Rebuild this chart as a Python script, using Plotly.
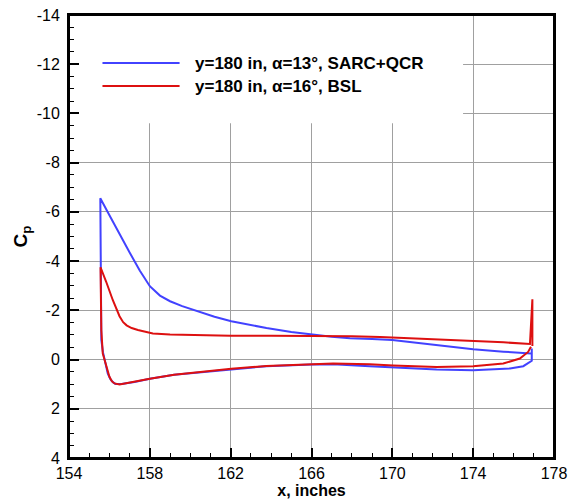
import plotly.graph_objects as go

# ---------------- data ----------------
# SARC+QCR, alpha=13 deg (blue)
blue_upper_x = [155.55, 155.9, 156.25, 156.6, 157.0, 157.5, 158.0, 158.5, 159.0, 159.6,
                160.5, 161.2, 162.03, 163.0, 163.77, 165.0, 166.0, 167.0, 167.9, 169.0,
                170.0, 171.0, 172.2, 172.85, 174.0, 175.5, 176.4, 176.85]
blue_upper_cp = [-6.55, -6.02, -5.52, -4.98, -4.35, -3.62, -2.98, -2.6, -2.37, -2.17,
                 -1.92, -1.74, -1.56, -1.4, -1.28, -1.12, -1.02, -0.93, -0.87, -0.84,
                 -0.79, -0.71, -0.59, -0.53, -0.42, -0.32, -0.27, -0.25]
blue_lower_x = [155.55, 155.58, 155.6, 155.68, 155.76, 155.92, 156.05, 156.17, 156.3, 156.6,
                157.24, 158.0, 159.2, 160.46, 162.03, 163.77, 166.0, 167.07, 168.88, 170.04,
                172.19, 174.0, 175.82, 176.48, 176.81, 176.9, 176.9]
blue_lower_cp = [-6.55, -3.0, -0.8, -0.3, 0.02, 0.57, 0.8, 0.92, 0.99, 0.99,
                 0.91, 0.78, 0.62, 0.52, 0.39, 0.27, 0.2, 0.19, 0.27, 0.32,
                 0.4, 0.43, 0.36, 0.27, 0.09, 0.05, -0.45]

# BSL, alpha=16 deg (red)
red_upper_x = [155.56, 155.84, 156.17, 156.5, 156.68, 156.85, 157.1, 157.41, 157.8, 158.15,
               159.0, 160.7, 162.0, 164.0, 166.0, 168.0, 169.4, 170.04, 171.0, 172.19,
               174.0, 175.5, 176.81, 176.93, 176.93]
red_upper_cp = [-3.75, -3.16, -2.41, -1.76, -1.52, -1.39, -1.28, -1.2, -1.11, -1.06,
                -1.02, -0.99, -0.97, -0.97, -0.97, -0.95, -0.92, -0.9, -0.86, -0.82,
                -0.76, -0.7, -0.63, -2.45, -0.55]
red_lower_x = [155.56, 155.6, 155.67, 155.76, 155.84, 156.0, 156.12, 156.25, 156.5, 157.24,
               158.0, 159.2, 160.46, 162.03, 163.77, 166.0, 167.07, 168.88, 170.04, 172.19,
               174.0, 175.49, 176.31, 176.72, 176.86]
red_lower_cp = [-3.75, -1.2, -0.25, 0.02, 0.25, 0.7, 0.88, 0.97, 1.01, 0.91,
                0.78, 0.62, 0.52, 0.37, 0.26, 0.19, 0.16, 0.19, 0.24, 0.3,
                0.27, 0.16, -0.04, -0.31, -0.52]

series_names = ["y=180 in, \u03b1=13\u00b0, SARC+QCR", "y=180 in, \u03b1=16\u00b0, BSL"]

x_ticks = [154, 158, 162, 166, 170, 174, 178]
x_tick_labels = ["154", "158", "162", "166", "170", "174", "178"]
y_ticks = [-14, -12, -10, -8, -6, -4, -2, 0, 2, 4]
y_tick_labels = ["-14", "-12", "-10", "-8", "-6", "-4", "-2", "0", "2", "4"]

BLUE = "#4242ff"
RED = "#dd1010"
FONT = "Liberation Sans, Arial, Helvetica, sans-serif"

# ---------------- figure ----------------
fig = go.Figure()

blue_x = blue_upper_x[::-1] + blue_lower_x[1:]
blue_y = blue_upper_cp[::-1] + blue_lower_cp[1:]
red_x = red_lower_x[::-1] + red_upper_x[1:]
red_y = red_lower_cp[::-1] + red_upper_cp[1:]

fig.add_trace(go.Scatter(x=blue_x, y=blue_y, mode="lines", name=series_names[0],
                         line=dict(color=BLUE, width=2), showlegend=False))
fig.add_trace(go.Scatter(x=red_x, y=red_y, mode="lines", name=series_names[1],
                         line=dict(color=RED, width=2), showlegend=False))

# white legend box covering the grid
fig.add_shape(type="rect", xref="x", yref="y", x0=154, x1=173.5, y0=-14, y1=-9.6,
              fillcolor="white", line=dict(width=0), layer="between")

# plot frame
fig.add_shape(type="rect", xref="paper", yref="paper", x0=0, x1=1, y0=0, y1=1,
              line=dict(color="black", width=2), fillcolor="rgba(0,0,0,0)", layer="above")

# manual legend (long line samples like the reference)
legend_y = [0.8916, 0.8397]
for name, col, ly in zip(series_names, [BLUE, RED], legend_y):
    fig.add_shape(type="line", xref="paper", yref="paper", x0=0.069, x1=0.228,
                  y0=ly, y1=ly, line=dict(color=col, width=2))
    fig.add_annotation(xref="paper", yref="paper", x=0.2549, y=ly, xanchor="left",
                       yanchor="middle", text="<b>" + name + "</b>", showarrow=False,
                       font=dict(family=FONT, size=17, color="black"))

axis_common = dict(
    showline=True, linecolor="black", linewidth=2, mirror=True,
    showgrid=True, gridcolor="#a0a0a0", gridwidth=1, zeroline=False,
    ticks="inside", ticklen=10, tickwidth=2, tickcolor="black",
    tickfont=dict(family=FONT, size=16, color="black"),
    automargin=False,
)

fig.update_xaxes(
    range=[154, 178], tickvals=x_ticks, ticktext=x_tick_labels,
    minor=dict(ticks="inside", ticklen=5, tickwidth=1, tickcolor="black", dtick=1, showgrid=False),
    title=dict(text="<b>x, inches</b>", font=dict(family=FONT, size=16, color="black"), standoff=2),
    **axis_common,
)
fig.update_yaxes(
    range=[4, -14], tickvals=y_ticks, ticktext=y_tick_labels,
    minor=dict(ticks="inside", ticklen=5, tickwidth=1, tickcolor="black", dtick=0.5, showgrid=False),
    title=dict(text="<b>C<sub>p</sub></b>", font=dict(family=FONT, size=19, color="black"), standoff=4),
    ticklabelstandoff=4,
    **axis_common,
)

fig.update_layout(
    width=582, height=504,
    margin=dict(l=69, r=28, t=15, b=46),
    paper_bgcolor="white", plot_bgcolor="white",
    showlegend=False,
)

# remove the default 8px page margin so the figure fills the window exactly
fig.write_html("out.html", config={"displayModeBar": False},
               post_script="document.body.style.margin='0';document.body.style.overflow='hidden';")
